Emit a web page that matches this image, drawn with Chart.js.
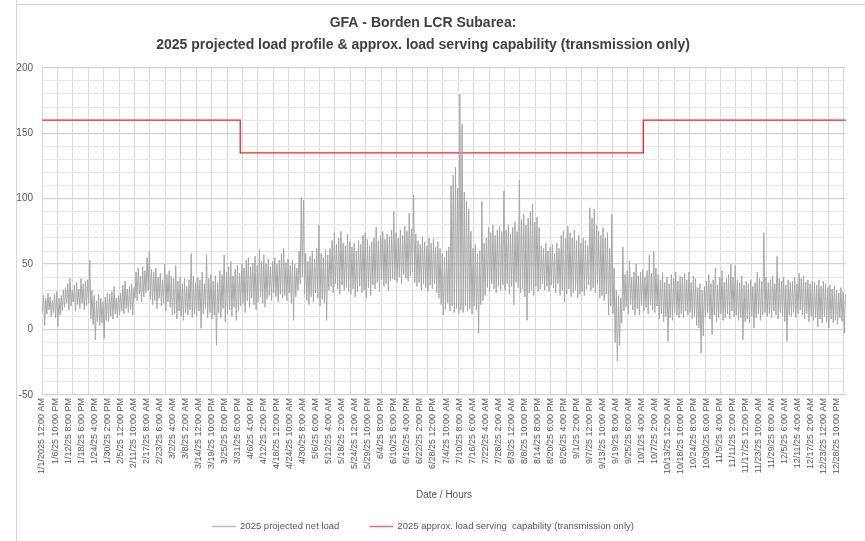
<!DOCTYPE html>
<html>
<head>
<meta charset="utf-8">
<script src="https://cdn.jsdelivr.net/npm/chart.js@4/dist/chart.umd.min.js"></script>
<style>
html,body{margin:0;padding:0;background:#ffffff;}
#wrap{width:865px;height:541px;position:relative;}
</style>
</head>
<body>
<div id="wrap"><canvas id="c" width="865" height="541"></canvas></div>
<script>
// ---- Data ----
// Estimated daily low / high of the 2025 projected net load (MW), day 0 = Jan 1
const dailyLow = [
  14, 3, 12, 15, 10, 13, 9, 2, 11, 14,
  17, 20, 15, 18, 21, 14, 19, 16, 20, 15,
  18, 20, 8, 4, -8, 6, 3, 5, -7, 7,
  6, 10, 8, 12, 9, 11, 14, 12, 16, 13,
  15, 11, 24, 22, 27, 21, 25, 28, 30, 23,
  19, 22, 16, 24, 18, 20, 14, 21, 17, 11,
  12, 8, 14, 10, 7, 13, 11, 15, 9, 12,
  10, 14, 1, 12, 16, 9, 13, 8, 11, -12,
  13, 9, 16, 6, 12, 15, 10, 17, 7, 14,
  18, 20, 13, 22, 17, 24, 19, 15, 21, 25,
  20, 17, 23, 26, 22, 28, 25, 21, 27, 24,
  26, 22, 28, 20, 7, 25, 30, 35, 40, 27,
  22, 19, 25, 21, 28, 24, 18, 23, 20, 7,
  30, 33, 28, 35, 31, 27, 34, 30, 32, 29,
  27, 31, 25, 29, 33, 28, 30, 24, 32, 26,
  34, 31, 36, 29, 38, 33, 35, 30, 37, 39,
  38, 36, 40, 35, 42, 39, 37, 41, 44, 36,
  33, 36, 30, 35, 32, 29, 34, 31, 35, 28,
  24, 19, 11, 15, 20, 14, 18, 13, 16, 12,
  15, 13, 18, 14, 16, 12, 18, 15, -3, 19,
  22, 26, 32, 29, 35, 31, 28, 33, 30, 34,
  30, 35, 27, 33, 19, 36, 32, 28, 31, 25,
  7, 28, 30, 26, 33, 29, 31, 35, 30, 33,
  29, 34, 32, 28, 35, 26, 30, 21, 27, 31,
  25, 28, 30, 24, 27, 29, 26, 31, 34, 30,
  32, 28, 35, 24, 26, 22, 27, 11, 18, 12,
  -10, -24, -12, 5, 14, 17, 12, 19, 15, 11,
  16, 11, 18, 14, 17, 12, 19, 15, 13, 18,
  8, 12, 6, 10, -9, 9, 7, 13, 11, 9,
  12, 9, 14, 11, 13, 8, 10, 3, 1, -18,
  -5, 10, 13, 8, -4, 11, 6, 9, 12, 7,
  9, 12, 8, 14, 10, 11, 7, 9, -8, 6,
  8, 5, 10, 1, 9, 12, 7, 11, 13, 10,
  12, 9, 14, 11, 8, 13, 10, 6, -9, 11,
  10, 13, 9, 12, 15, 11, 8, 12, 6, 10,
  7, 9, 2, 8, 5, 10, 6, 1, 8, 5,
  7, 4, 9, 6, -3
];
const dailyHigh = [
  26, 24, 28, 25, 22, 27, 29, 24, 26, 30,
  32, 35, 39, 30, 34, 36, 31, 39, 35, 37,
  38, 53, 30, 26, 22, 27, 24, 21, 25, 28,
  27, 29, 33, 24, 26, 28, 34, 37, 31, 33,
  35, 32, 44, 47, 41, 48, 45, 55, 60, 46,
  44, 47, 40, 43, 38, 50, 42, 45, 41, 39,
  49, 37, 40, 35, 39, 33, 38, 58, 41, 36,
  40, 38, 44, 35, 57, 39, 42, 37, 41, 36,
  45, 42, 57, 44, 48, 52, 41, 46, 49, 43,
  50, 47, 53, 55, 48, 51, 56, 49, 61, 52,
  57, 50, 54, 48, 52, 55, 50, 53, 58, 62,
  51, 54, 49, 53, 50, 47, 60, 101, 99, 58,
  52, 56, 60, 54, 62, 80, 58, 55, 61, 57,
  62, 68, 74, 65, 70, 75, 66, 64, 73, 67,
  63, 66, 60, 68, 65, 72, 74, 69, 64, 67,
  70, 78, 68, 72, 75, 69, 73, 71, 76, 90,
  74, 70, 76, 72, 79, 75, 89, 77, 103, 73,
  68, 65, 71, 67, 64, 70, 66, 69, 63, 67,
  62, 58, 55, 60, 63, 110, 118, 124, 108, 180,
  157, 105, 98, 92, 75, 62, 65, 58, 60, 98,
  66, 70, 78, 74, 80, 72, 76, 79, 75, 106,
  76, 80, 73, 78, 82, 75, 114, 84, 88, 80,
  85, 90, 96, 82, 86, 78, 64, 62, 66, 60,
  63, 65, 58, 66, 62, 72, 75, 70, 79, 74,
  70, 76, 68, 72, 66, 70, 68, 64, 93, 85,
  92, 80, 75, 72, 78, 70, 74, 62, 88, 47,
  30, 26, 24, 63, 42, 45, 52, 40, 44, 50,
  41, 44, 46, 40, 45, 57, 43, 60, 47, 42,
  38, 44, 36, 40, 35, 42, 39, 44, 37, 41,
  40, 43, 38, 44, 36, 41, 39, 32, 35, 30,
  33, 37, 42, 35, 38, 47, 34, 40, 45, 36,
  39, 42, 50, 40, 49, 38, 36, 41, 34, 37,
  35, 38, 33, 36, 44, 39, 37, 74, 40, 36,
  38, 41, 35, 56, 39, 37, 40, 34, 38, 36,
  37, 40, 35, 43, 39, 41, 36, 38, 35, 37,
  36, 34, 38, 33, 37, 35, 32, 34, 31, 33,
  30, 28, 32, 29, 27
];
// Load serving capability: hour of year where each level starts, and the level (MW)
const capabilityStartHour = [0, 2160, 6552];
const capabilityValue = [160, 135, 160];

// Category tick labels (every 142 hours in the source workbook)
const tickLabels = [
  "1/1/2025 12:00 AM","1/6/25 10:00 PM","1/12/25 8:00 PM","1/18/25 6:00 PM","1/24/25 4:00 PM",
  "1/30/25 2:00 PM","2/5/25 12:00 PM","2/11/25 10:00 AM","2/17/25 8:00 AM","2/23/25 6:00 AM",
  "3/2/25 4:00 AM","3/8/25 2:00 AM","3/14/25 12:00 AM","3/19/25 10:00 PM","3/25/25 8:00 PM",
  "3/31/25 6:00 PM","4/6/25 4:00 PM","4/12/25 2:00 PM","4/18/25 12:00 PM","4/24/25 10:00 AM",
  "4/30/25 8:00 AM","5/6/25 6:00 AM","5/12/25 4:00 AM","5/18/25 2:00 AM","5/24/25 12:00 AM",
  "5/29/25 10:00 PM","6/4/25 8:00 PM","6/10/25 6:00 PM","6/16/25 4:00 PM","6/22/25 2:00 PM",
  "6/28/25 12:00 PM","7/4/25 10:00 AM","7/10/25 8:00 AM","7/16/25 6:00 AM","7/22/25 4:00 AM",
  "7/28/25 2:00 AM","8/3/25 12:00 AM","8/8/25 10:00 PM","8/14/25 8:00 PM","8/20/25 6:00 PM",
  "8/26/25 4:00 PM","9/1/25 2:00 PM","9/7/25 12:00 PM","9/13/25 10:00 AM","9/19/25 8:00 AM",
  "9/25/25 6:00 AM","10/1/25 4:00 AM","10/7/25 2:00 AM","10/13/25 12:00 AM","10/18/25 10:00 PM",
  "10/24/25 8:00 PM","10/30/25 6:00 PM","11/5/25 4:00 PM","11/11/25 2:00 PM","11/17/25 12:00 PM",
  "11/23/25 10:00 AM","11/29/25 8:00 AM","12/5/25 6:00 AM","12/11/25 4:00 AM","12/17/25 2:00 AM",
  "12/23/25 12:00 AM","12/28/25 10:00 PM"
];
const labelStepHours = 142;
const gridStepHours = 168;
const hoursInYear = 8760;
const yTicksMajor = 50;

const seriesNames = ["2025 projected net load", "2025 approx. load serving  capability (transmission only)"];
const titleLines = ["GFA - Borden LCR Subarea:", "2025 projected load profile & approx. load serving capability (transmission only)"];
const xAxisTitle = "Date / Hours";

// ---- Build datasets ----
const loadPoints = [];
dailyLow.forEach((lo, d) => {
  loadPoints.push({ x: d * 24 + 5, y: lo });
  loadPoints.push({ x: d * 24 + 17, y: dailyHigh[d] });
});
const capPoints = capabilityStartHour.map((h, i) => ({ x: h, y: capabilityValue[i] }));
capPoints.push({ x: hoursInYear, y: capabilityValue[capabilityValue.length - 1] });

const FONT = '"Liberation Sans", Arial, sans-serif';
const TEXT = '#595959';

// faint worksheet edges visible around the embedded chart
const sheetFrame = {
  id: 'sheetFrame',
  beforeDraw(chart) {
    const ctx = chart.ctx;
    ctx.save();
    ctx.strokeStyle = '#d6d6d6';
    ctx.lineWidth = 1;
    ctx.beginPath();
    ctx.moveTo(16.5, 0); ctx.lineTo(16.5, chart.height);
    ctx.moveTo(16, 4.5); ctx.lineTo(chart.width, 4.5);
    ctx.stroke();
    ctx.restore();
  }
};

const legendPlugin = {
  id: 'bottomLegend',
  afterDraw(chart) {
    const ctx = chart.ctx;
    const ds = chart.data.datasets;
    ctx.save();
    ctx.font = '9.5px ' + FONT;
    const sample = 24, gapText = 4, gapItem = 30;
    const widths = ds.map(d => sample + gapText + ctx.measureText(d.label).width);
    const total = widths.reduce((a, b) => a + b, 0) + gapItem * (ds.length - 1);
    const tb = chart.titleBlock;
    const cx = (tb.left + tb.right) / 2;
    let x = cx - total / 2;
    const y = chart.height - 15;
    ds.forEach((d, i) => {
      ctx.strokeStyle = d.legendColor || d.borderColor;
      ctx.lineWidth = 1.5;
      ctx.beginPath();
      ctx.moveTo(x, y + 0.5);
      ctx.lineTo(x + sample, y + 0.5);
      ctx.stroke();
      ctx.fillStyle = TEXT;
      ctx.textBaseline = 'middle';
      ctx.textAlign = 'left';
      ctx.fillText(d.label, x + sample + gapText, y);
      x += widths[i] + gapItem;
    });
    ctx.restore();
  }
};

new Chart(document.getElementById('c'), {
  type: 'line',
  data: {
    datasets: [
      {
        label: seriesNames[0],
        data: loadPoints,
        borderColor: '#a8a8a8',
        legendColor: '#bfbfbf',
        borderWidth: 1,
        pointRadius: 0,
        tension: 0,
        fill: false
      },
      {
        label: seriesNames[1],
        data: capPoints,
        borderColor: '#ff2020',
        legendColor: '#f07070',
        borderWidth: 1.3,
        pointRadius: 0,
        stepped: 'before',
        fill: false
      }
    ]
  },
  options: {
    responsive: false,
    animation: false,
    devicePixelRatio: 1,
    layout: { padding: { left: 0, right: 19, top: 1, bottom: 36 } },
    plugins: {
      legend: { display: false },
      tooltip: { enabled: false },
      title: {
        display: true,
        text: titleLines,
        color: '#404040',
        font: { family: FONT, size: 14, weight: 'bold', lineHeight: 1.6 },
        padding: { top: 11, bottom: 11 }
      }
    },
    scales: {
      x: {
        type: 'linear',
        position: 'bottom',
        min: 0,
        max: hoursInYear,
        border: { display: false },
        grid: { color: '#dadada', lineWidth: 1, drawTicks: false },
        ticks: { display: false },
        afterBuildTicks: (scale) => {
          const t = [];
          for (let h = 0; h <= hoursInYear; h += gridStepHours) t.push({ value: h });
          scale.ticks = t;
        }
      },
      xl: {
        type: 'linear',
        position: 'bottom',
        min: 0,
        max: hoursInYear,
        border: { display: false },
        grid: { display: false, drawTicks: false },
        ticks: {
          autoSkip: false,
          maxRotation: 90,
          minRotation: 90,
          padding: 3,
          color: TEXT,
          font: { family: FONT, size: 9 },
          callback: (v, i) => tickLabels[i]
        },
        afterBuildTicks: (scale) => {
          scale.ticks = tickLabels.map((_, i) => ({ value: i * labelStepHours }));
        },
        title: {
          display: true,
          text: xAxisTitle,
          color: TEXT,
          font: { family: FONT, size: 10 },
          padding: { top: 12, bottom: 4 }
        }
      },
      y: {
        min: -50,
        max: 200,
        border: { display: false },
        afterFit: (scale) => { scale.width = 42; },
        grid: {
          drawTicks: false,
          color: (c) => (c.tick && c.tick.value % yTicksMajor === 0) ? '#d2d2d2' : '#e8e8e8',
          lineWidth: (c) => (c.tick && c.tick.value % yTicksMajor === 0) ? 1.3 : 1
        },
        ticks: {
          stepSize: 10,
          autoSkip: false,
          padding: 9,
          color: TEXT,
          font: { family: FONT, size: 10 },
          callback: (v) => (v % yTicksMajor === 0) ? String(v) : ''
        }
      }
    }
  },
  plugins: [sheetFrame, legendPlugin]
});
</script>
</body>
</html>
